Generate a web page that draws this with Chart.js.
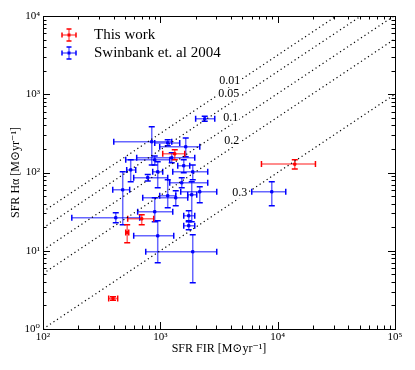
<!DOCTYPE html>
<html>
<head>
<meta charset="utf-8">
<script src="https://cdn.jsdelivr.net/npm/chart.js@4.4.0/dist/chart.umd.min.js"></script>
<style>
  html, body { margin: 0; padding: 0; background: #fff; }
</style>
</head>
<body>
<canvas id="sfrChart" width="415" height="370"></canvas>
<script>
// This work (red)
const redX = [1327, 694, 522, 395, 13990];
const redXLow = [1048, 527, 507, 363, 7276];
const redXHigh = [1614, 878, 538, 433, 20990];
const redY = [173, 25.6, 17.1, 2.46, 128];
const redYLow = [145, 21.5, 12.7, 2.33, 111];
const redYHigh = [195, 28.8, 21.5, 2.58, 145];

// Swinbank et. al 2004 (blue)
const blueX = [2390, 845, 1156, 1646, 896, 1251, 559, 950, 1889, 781, 478, 1156,
  1522, 2168, 1852, 1353, 417, 896, 950, 1889, 1746, 1746, 8909, 1583];
const blueXLow = [2000, 401, 896, 988, 507, 629, 517, 861, 1276, 593, 393, 988,
  1202, 1492, 1712, 708, 176, 641, 593, 751, 1583, 1583, 6013, 1407];
const blueXHigh = [2910, 1251, 1463, 2168, 1202, 1965, 617, 1048, 2535, 1156, 548, 1353,
  2535, 3025, 2043, 1712, 667, 1276, 1301, 3025, 1965, 1965, 11720, 1781];
const blueY = [485, 247, 239, 213, 145, 154, 108, 102, 102, 86, 60, 50.4,
  73.9, 56.7, 51.9, 47.5, 26.4, 31.5, 15.5, 9.7, 20.9, 28, 56.7, 122];
const blueYLow = [451, 125, 219, 159, 125, 133, 76, 64, 81, 78, 21.5, 35.4,
  64, 41, 23.5, 37.6, 22.8, 23.5, 7.0, 3.9, 18.5, 24.2, 37.6, 99];
const blueYHigh = [522, 383, 262, 277, 163, 179, 145, 137, 125, 94, 102, 81,
  86, 65.7, 76, 58.4, 30.6, 47.5, 24.2, 16.0, 23.5, 32.4, 76, 145];

// Dotted reference lines y = k * x and their labels
const lineNames = ['0.01', '0.05', '0.1', '0.2', '0.3'];
const lineFactors = [0.316, 0.195, 0.102, 0.051, 0.01];
const lineLabelX = [3905, 3828, 3981, 4063, 4753];
const lineLabelY = [1483, 1012, 500, 254, 55];

const xTicks = [100, 1000, 10000, 100000];
const yTicks = [1, 10, 100, 1000, 10000];

const FONT = '"Liberation Serif", "DejaVu Serif", serif';
const sup = { '0': '\u2070', '1': '\u00b9', '2': '\u00b2', '3': '\u00b3', '4': '\u2074', '5': '\u2075' };
function powLabel(v) {
  const e = Math.round(Math.log10(v));
  return '10' + String(e).split('').map(c => sup[c]).join('');
}

const groups = [
  { rgb: '0,0,255', x: blueX, xl: blueXLow, xh: blueXHigh, y: blueY, yl: blueYLow, yh: blueYHigh },
  { rgb: '255,0,0', x: redX, xl: redXLow, xh: redXHigh, y: redY, yl: redYLow, yh: redYHigh }
];

function drawErrorBar(ctx, rgb, cx, cy, x0, x1, y0, y1, cap) {
  ctx.strokeStyle = 'rgba(' + rgb + ',0.6)';
  ctx.lineWidth = 1.5;
  ctx.beginPath();
  ctx.moveTo(x0, cy); ctx.lineTo(x1, cy);
  ctx.moveTo(cx, y0); ctx.lineTo(cx, y1);
  ctx.stroke();
  ctx.strokeStyle = 'rgb(' + rgb + ')';
  ctx.beginPath();
  ctx.moveTo(x0, cy - cap); ctx.lineTo(x0, cy + cap);
  ctx.moveTo(x1, cy - cap); ctx.lineTo(x1, cy + cap);
  ctx.moveTo(cx - cap, y0); ctx.lineTo(cx + cap, y0);
  ctx.moveTo(cx - cap, y1); ctx.lineTo(cx + cap, y1);
  ctx.stroke();
}

const errorBars = {
  id: 'errorBars',
  beforeDatasetsDraw(chart) {
    const ctx = chart.ctx, xs = chart.scales.x, ys = chart.scales.y;
    ctx.save();
    groups.forEach(g => {
      for (let i = 0; i < g.x.length; i++) {
        drawErrorBar(ctx, g.rgb,
          xs.getPixelForValue(g.x[i]), ys.getPixelForValue(g.y[i]),
          xs.getPixelForValue(g.xl[i]), xs.getPixelForValue(g.xh[i]),
          ys.getPixelForValue(g.yl[i]), ys.getPixelForValue(g.yh[i]), 3);
      }
    });
    ctx.restore();
  }
};

const lineLabels = {
  id: 'lineLabels',
  afterDatasetsDraw(chart) {
    const ctx = chart.ctx, xs = chart.scales.x, ys = chart.scales.y;
    ctx.save();
    ctx.font = '12px ' + FONT;
    ctx.textAlign = 'center';
    ctx.textBaseline = 'middle';
    lineNames.forEach((t, i) => {
      const px = xs.getPixelForValue(lineLabelX[i]);
      const py = ys.getPixelForValue(lineLabelY[i]);
      const w = ctx.measureText(t).width;
      ctx.fillStyle = '#fff';
      ctx.fillRect(px - w / 2 - 1, py - 6, w + 2, 12);
      ctx.fillStyle = '#000';
      ctx.fillText(t, px, py);
    });
    ctx.restore();
  }
};

const frameAndLegend = {
  id: 'frameAndLegend',
  afterDraw(chart) {
    const ctx = chart.ctx, a = chart.chartArea;
    const xs = chart.scales.x, ys = chart.scales.y;
    ctx.save();
    ctx.strokeStyle = '#000';
    ctx.lineWidth = 1;
    // inward ticks on all four sides
    ctx.beginPath();
    for (let d = 2; d < 5; d++) {
      for (let m = 1; m <= 9; m++) {
        const px = Math.round(xs.getPixelForValue(m * Math.pow(10, d))) + 0.5;
        const len = m === 1 ? 7 : 3.5;
        ctx.moveTo(px, a.bottom); ctx.lineTo(px, a.bottom - len);
        ctx.moveTo(px, a.top); ctx.lineTo(px, a.top + len);
      }
    }
    for (let d = 0; d < 4; d++) {
      for (let m = 1; m <= 9; m++) {
        const py = Math.round(ys.getPixelForValue(m * Math.pow(10, d))) + 0.5;
        const len = m === 1 ? 7 : 3.5;
        ctx.moveTo(a.left, py); ctx.lineTo(a.left + len, py);
        ctx.moveTo(a.right, py); ctx.lineTo(a.right - len, py);
      }
    }
    ctx.stroke();
    ctx.strokeRect(Math.round(a.left) + 0.5, Math.round(a.top) + 0.5,
      Math.round(a.right - a.left), Math.round(a.bottom - a.top));

    // legend
    const entries = [['This work', '255,0,0'], ['Swinbank et. al 2004', '0,0,255']];
    ctx.font = '15px ' + FONT;
    ctx.textBaseline = 'middle';
    entries.forEach((e, i) => {
      const cy = a.top + 19 + i * 18, cx = a.left + 26;
      drawErrorBar(ctx, e[1], cx, cy, cx - 7, cx + 7, cy - 6, cy + 6, 2.5);
      ctx.fillStyle = 'rgb(' + e[1] + ')';
      ctx.fillRect(cx - 1.5, cy - 1.5, 3, 3);
      ctx.fillStyle = '#000';
      ctx.fillText(e[0], a.left + 51, cy);
    });
    ctx.restore();
  }
};

const scatterPoints = (xv, yv) => xv.map((x, i) => ({ x: x, y: yv[i] }));

const refLines = lineFactors.map(k => ({
  type: 'line',
  data: [{ x: 100, y: k * 100 }, { x: 100000, y: k * 100000 }],
  borderColor: '#000',
  borderWidth: 1.2,
  borderDash: [1.2, 3],
  pointRadius: 0,
  fill: false
}));

new Chart(document.getElementById('sfrChart'), {
  type: 'scatter',
  data: {
    datasets: [{
      label: 'This work',
      data: scatterPoints(redX, redY),
      backgroundColor: 'rgb(255,0,0)',
      borderColor: 'rgb(255,0,0)',
      pointStyle: 'rect',
      pointRadius: 1.6
    }, {
      label: 'Swinbank et. al 2004',
      data: scatterPoints(blueX, blueY),
      backgroundColor: 'rgb(0,0,255)',
      borderColor: 'rgb(0,0,255)',
      pointStyle: 'rect',
      pointRadius: 1.6
    }].concat(refLines)
  },
  options: {
    responsive: false,
    animation: false,
    layout: { padding: { top: 16, right: 20, bottom: 10, left: 0 } },
    plugins: {
      legend: { display: false },
      tooltip: { enabled: false }
    },
    scales: {
      x: {
        type: 'logarithmic',
        min: 100,
        max: 100000,
        afterBuildTicks: s => { s.ticks = xTicks.map(v => ({ value: v })); },
        afterFit: s => { s.height = 31; },
        grid: { display: false, drawTicks: false },
        border: { display: false },
        ticks: {
          autoSkip: false, maxRotation: 0, padding: 2, color: '#000',
          font: { family: FONT, size: 11 },
          callback: v => powLabel(v)
        },
        title: {
          display: true, text: 'SFR FIR [M\u2299yr\u207b\u00b9]', color: '#000',
          font: { family: FONT, size: 12 }, padding: { top: 0, bottom: 4 }
        }
      },
      y: {
        type: 'logarithmic',
        min: 1,
        max: 10000,
        afterBuildTicks: s => { s.ticks = yTicks.map(v => ({ value: v })); },
        afterFit: s => { s.width = 43; },
        grid: { display: false, drawTicks: false },
        border: { display: false },
        ticks: {
          autoSkip: false, padding: 3, color: '#000',
          font: { family: FONT, size: 11 },
          callback: v => powLabel(v)
        },
        title: {
          display: true, text: 'SFR H\u03b1 [M\u2299yr\u207b\u00b9]', color: '#000',
          font: { family: FONT, size: 12 }, padding: { top: 9, bottom: 0 }
        }
      }
    }
  },
  plugins: [errorBars, lineLabels, frameAndLegend]
});
</script>
</body>
</html>
